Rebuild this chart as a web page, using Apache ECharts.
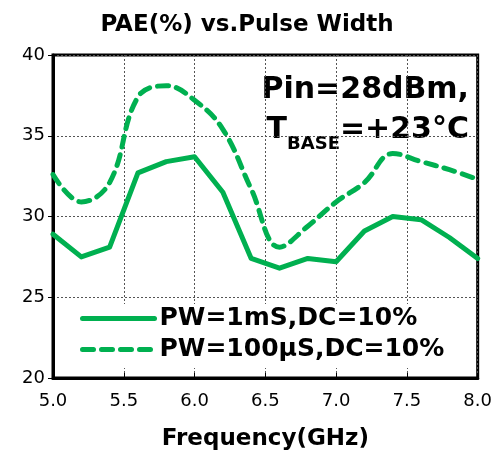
<!DOCTYPE html>
<html>
<head>
<meta charset="utf-8">
<script src="https://cdn.jsdelivr.net/npm/echarts@6/dist/echarts.min.js"></script>
<style>
  html, body { margin: 0; padding: 0; background: #fff; }
  #chart { width: 495px; height: 462px; }
</style>
</head>
<body>
<div id="chart"></div>
<script>
// frequency points (GHz)
var freqs = [5.0, 5.2, 5.4, 5.6, 5.8, 6.0, 6.2, 6.4, 6.6, 6.8, 7.0, 7.2, 7.4, 7.6, 7.8, 8.0];
// PAE (%)
var pae1ms = [28.9, 27.5, 28.1, 32.7, 33.4, 33.7, 31.5, 27.4, 26.8, 27.4, 27.2, 29.1, 30.0, 29.8, 28.7, 27.4];
var pae100us = [32.6, 30.9, 32.1, 37.4, 38.1, 37.2, 35.4, 31.7, 28.1, 29.4, 30.9, 32.1, 33.9, 33.4, 32.9, 32.3];
var seriesNames = ['PW=1mS,DC=10%', 'PW=100μS,DC=10%'];

var green = '#00B050';
var font = 'DejaVu Sans';

function pairs(ys) {
  return freqs.map(function (f, i) { return [f, ys[i]]; });
}

var myChart = echarts.init(document.getElementById('chart'));

var option = {
  animation: false,
  textStyle: { fontFamily: font },
  title: {
    text: 'PAE(%) vs.Pulse Width',
    left: 242,
    textAlign: 'center',
    top: 9,
    textStyle: { fontSize: 23, fontWeight: 'bold', color: '#000', fontFamily: font }
  },
  grid: {
    left: 53, right: 14, top: 55, bottom: 84,
    show: true,
    borderColor: '#000',
    borderWidth: 3,
    containLabel: false
  },
  graphic: [{
    type: 'group',
    left: 243,
    top: 58,
    z: 1,
    children: [{
      type: 'rect',
      shape: { x: 0, y: 0, width: 233, height: 92 },
      style: { fill: '#fff' }
    }, {
      type: 'text',
      x: 226,
      y: 7,
      style: {
        text: '{a|Pin=28dBm,}\n{a|T}{s|BASE}{a|=+23°C}',
        align: 'right',
        rich: {
          a: { fontSize: 30, fontWeight: 'bold', fontFamily: font, fill: '#000', lineHeight: 40, verticalAlign: 'bottom' },
          s: { fontSize: 18, fontWeight: 'bold', fontFamily: font, fill: '#000', lineHeight: 40, verticalAlign: 'bottom', padding: [0, 0, -8, 0] }
        }
      }
    }]
  }],
  legend: {
    orient: 'vertical',
    left: 78,
    top: 304,
    itemWidth: 72,
    itemHeight: 14,
    itemGap: 6,
    padding: [2, 30, 6, 2],
    backgroundColor: '#fff',
    data: seriesNames,
    itemStyle: { opacity: 0 },
    lineStyle: { width: 5, cap: 'round' },
    textStyle: { fontSize: 25, fontWeight: 'bold', color: '#000', fontFamily: font }
  },
  xAxis: {
    type: 'value',
    min: 5.0,
    max: 8.0,
    interval: 0.5,
    name: 'Frequency(GHz)',
    nameLocation: 'middle',
    nameGap: 50,
    nameTextStyle: { fontSize: 23, fontWeight: 'bold', color: '#000', fontFamily: font },
    axisLine: { lineStyle: { color: '#000', width: 3 } },
    axisTick: { show: true, inside: true, length: 5, lineStyle: { color: '#000' } },
    axisLabel: {
      fontSize: 18, color: '#000', margin: 14,
      formatter: function (v) { return v.toFixed(1); }
    },
    splitLine: { show: true, lineStyle: { color: '#555', type: [2, 2], width: 1 } }
  },
  yAxis: {
    type: 'value',
    min: 20,
    max: 40,
    interval: 5,
    axisLine: { show: true, lineStyle: { color: '#000', width: 3 } },
    axisTick: { show: true, length: 5, lineStyle: { color: '#000' } },
    axisLabel: { fontSize: 18, color: '#000', margin: 8 },
    splitLine: { show: true, lineStyle: { color: '#555', type: [2, 2], width: 1 } }
  },
  series: [{
    name: seriesNames[0],
    type: 'line',
    symbol: 'none',
    smooth: false,
    z: 3,
    lineStyle: { color: green, width: 5, cap: 'round', join: 'round' },
    itemStyle: { color: green },
    data: pairs(pae1ms)
  }, {
    name: seriesNames[1],
    type: 'line',
    symbol: 'none',
    smooth: 0.4,
    z: 3,
    lineStyle: { color: green, width: 5, type: [11, 8], cap: 'round' },
    itemStyle: { color: green },
    data: pairs(pae100us)
  }]
};

myChart.setOption(option);
</script>
</body>
</html>
